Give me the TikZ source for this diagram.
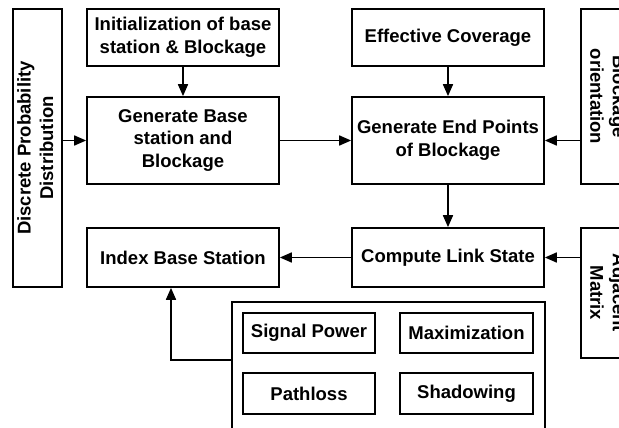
\documentclass[tikz,border=0pt]{standalone}
\usepackage{fontspec}
\setmainfont{Liberation Sans}
\usepackage{graphicx}
\usetikzlibrary{arrows.meta}
\newcommand{\vtext}[2]{\rotatebox{#1}{\begin{tabular}{@{}c@{}}#2\end{tabular}}}
\begin{document}
\begin{tikzpicture}[x=1pt,y=1pt,
  every node/.style={font=\bfseries\fontsize{18.5}{22.5}\selectfont},
  blk/.style={draw, line width=1.7pt, inner sep=0pt, align=center},
  arr/.style={line width=1.7pt, -{Triangle[length=12pt,width=10pt]}},
  ln/.style={line width=1.7pt}]
\useasboundingbox (0,0) rectangle (619,-428);
\clip (0,0) rectangle (619,-428);
% boxes
\node[blk, minimum width=49pt, minimum height=278pt] (disc) at (37.5,-148)
  {\vtext{90}{Discrete Probability\\Distribution}};
\node[blk, minimum width=192pt, minimum height=57pt] (init) at (183,-37.5)
  {Initialization of base\\station \& Blockage};
\node[blk, minimum width=192pt, minimum height=87pt] (gen) at (183,-140.5)
  {Generate Base\\station and\\Blockage};
\node[blk, minimum width=192pt, minimum height=57pt] (eff) at (448,-37.5)
  {Effective Coverage};
\node[blk, minimum width=192pt, minimum height=87pt] (gep) at (448,-140.5)
  {Generate End Points\\of Blockage};
\node[blk, minimum width=50pt, minimum height=175pt] (bo) at (606,-96.5)
  {\vtext{-90}{Blockage\\orientation}};
\node[blk, minimum width=192pt, minimum height=59pt] (ibs) at (183,-257.5)
  {Index Base Station};
\node[blk, minimum width=192pt, minimum height=59pt] (cls) at (448,-257.5)
  {Compute Link State};
\node[blk, minimum width=50pt, minimum height=130pt] (adj) at (606,-293)
  {\vtext{-90}{Adjacent\\Matrix}};
\node[blk, minimum width=313pt, minimum height=143pt] (outer) at (388.5,-373.5) {};
\node[blk, minimum width=132pt, minimum height=40pt] (sp) at (309,-333) {Signal Power};
\node[blk, minimum width=132pt, minimum height=41pt] (pl) at (309,-393.5) {Pathloss};
\node[blk, minimum width=133pt, minimum height=40pt] (mx) at (466.5,-333) {Maximization};
\node[blk, minimum width=133pt, minimum height=41pt] (sh) at (466.5,-393.5) {Shadowing};
% connectors
\draw[arr] (init.south) -- (gen.north);
\draw[arr] (disc.east |- gen.west) -- (gen.west);
\draw[arr] (gen.east) -- (gep.west);
\draw[arr] (eff.south) -- (gep.north);
\draw[arr] (bo.west |- gep.east) -- (gep.east);
\draw[arr] (gep.south) -- (cls.north);
\draw[arr] (adj.west |- cls.east) -- (cls.east);
\draw[arr] (cls.west) -- (ibs.east);
\coordinate (bend) at (171,-360);
\draw[arr] (outer.west |- bend) -- (bend) -- (bend |- ibs.south);
\end{tikzpicture}
\end{document}
